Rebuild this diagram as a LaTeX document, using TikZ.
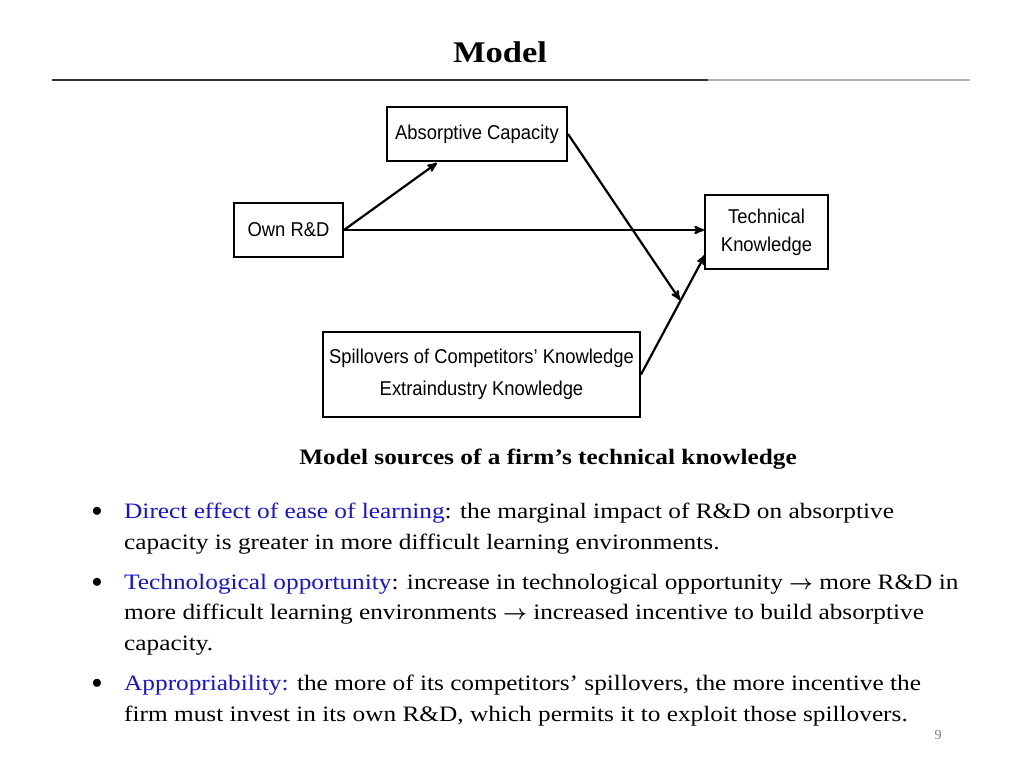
\documentclass[tikz,border=0pt]{standalone}
\usepackage{amsmath}
\usepackage{fontspec}
\setmainfont{Liberation Serif}
\setsansfont{Liberation Sans}
\newfontfamily\widefont{Liberation Serif}[FakeStretch=1.15]
\usetikzlibrary{arrows}
\definecolor{linkblue}{RGB}{20,20,210}
\tikzset{
  box/.style={draw,line width=2pt,font=\sffamily\fontsize{20}{28}\selectfont,inner sep=0pt,align=center},
  link/.style={->,>=stealth',line width=2.2pt},
  body/.style={anchor=north west,align=left,inner sep=0pt,font=\widefont\fontsize{22}{30.5}\selectfont}
}
\begin{document}
\begin{tikzpicture}[x=1pt,y=-1pt]
  \useasboundingbox (0,0) rectangle (1024,768);

  \node[font=\widefont\bfseries\fontsize{30}{34}\selectfont] (title) at (500,52) {Model};
  \draw[line width=1.5pt,black!80] (52,80) -- (708,80);
  \draw[line width=1.5pt,black!30] (708,80) -- (970,80);

  \node[box,minimum width=180pt,minimum height=54pt] (ac) at (477,134) {\scalebox{0.92}[1]{Absorptive Capacity}};
  \node[box,minimum width=109pt,minimum height=54pt] (rd) at (288.5,230) {\scalebox{0.92}[1]{Own R\&D}};
  \node[box,minimum width=123pt,minimum height=74pt] (tk) at (766.5,232) {\scalebox{0.92}[1]{Technical}\\\scalebox{0.92}[1]{Knowledge}};
  \node[box,minimum width=317pt,minimum height=85pt] (sp) at (481.5,374.5)
    {\scalebox{0.92}[1]{Spillovers of Competitors' Knowledge}\\[4pt]\scalebox{0.92}[1]{Extraindustry Knowledge}};

  \draw[link] (rd.east) -- (437,163);
  \draw[link] (rd.east) -- (tk.west |- rd.east);
  \draw[link] (ac.east) -- (680,300);
  \draw[link] (sp.east) -- (705,255);

  \node[font=\widefont\bfseries\fontsize{22}{26}\selectfont] (cap) at (548,459) {Model sources of a firm’s technical knowledge};

  \node[body] (b1) at (124,503) {\textcolor{linkblue}{Direct effect of ease of learning}: the marginal impact of R\&D on absorptive\\capacity is greater in more difficult learning environments.};
  \node[body] (b2) at (124,574) {\textcolor{linkblue}{Technological opportunity}: increase in technological opportunity $\boldsymbol{\rightarrow}$ more R\&D in\\more difficult learning environments $\boldsymbol{\rightarrow}$ increased incentive to build absorptive\\capacity.};
  \node[body] (b3) at (124,675) {\textcolor{linkblue}{Appropriability:} the more of its competitors’ spillovers, the more incentive the\\firm must invest in its own R\&D, which permits it to exploit those spillovers.};
  \foreach \y in {512,583,684}
    \node[font=\fontsize{22}{26}\selectfont] at (97,\y) {$\bullet$};

  \node[font=\fontsize{14}{16}\selectfont,text=black!50] (page) at (938,735) {9};
\end{tikzpicture}
\end{document}
